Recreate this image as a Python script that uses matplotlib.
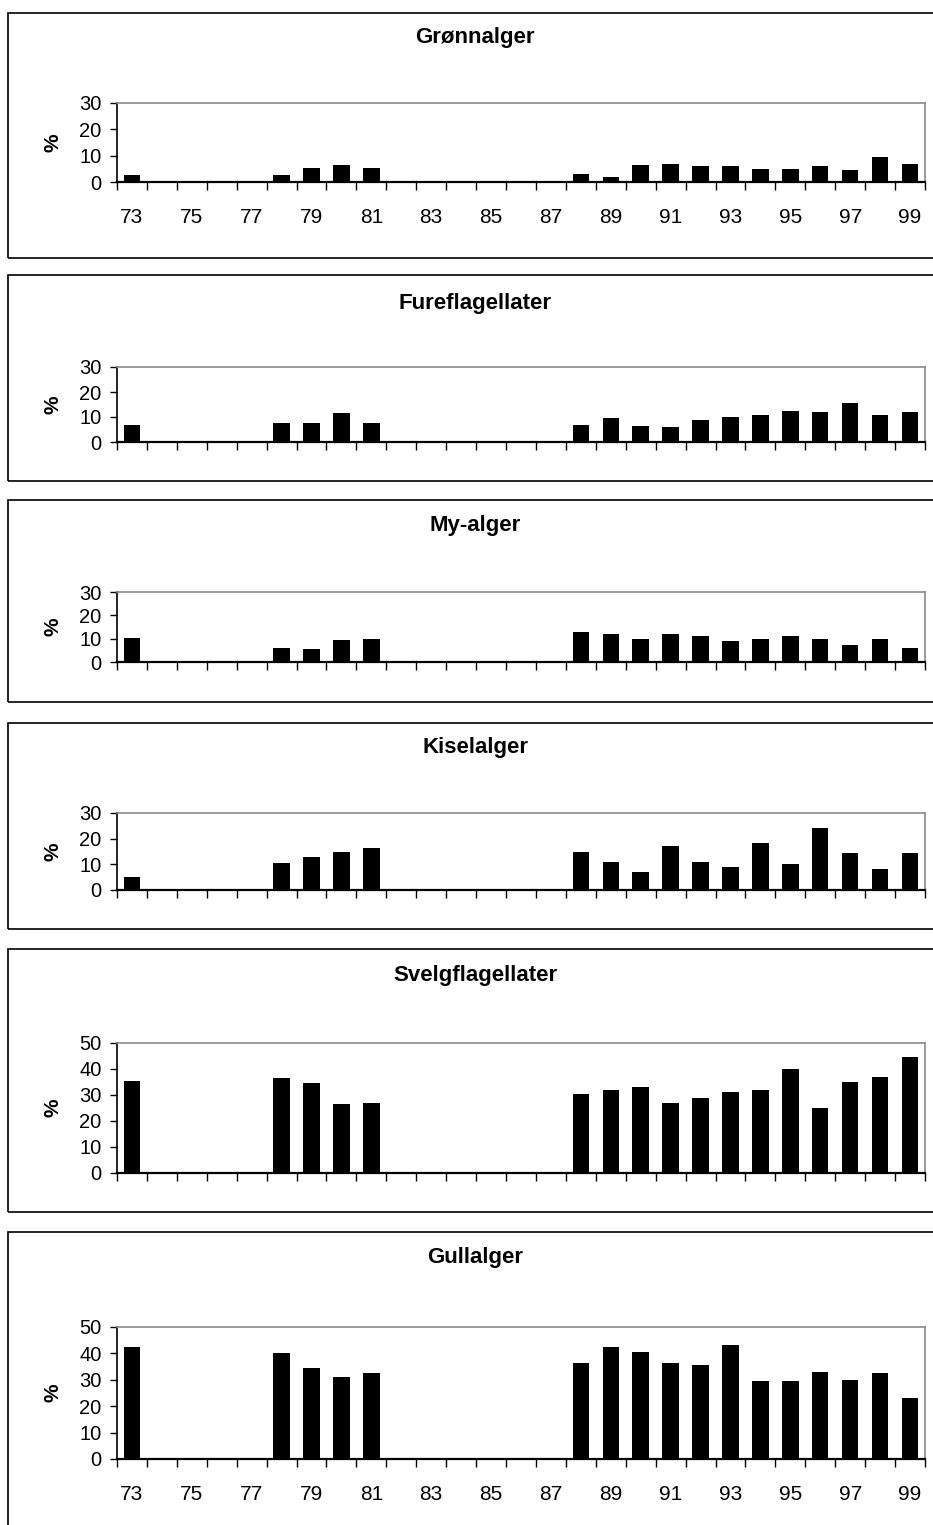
import numpy as np
import matplotlib
matplotlib.use("Agg")
import matplotlib.pyplot as plt
from matplotlib.patches import Rectangle

plt.rcParams["font.family"] = ["Liberation Sans", "DejaVu Sans"]

years = list(range(73, 100))
yearLabels = [str(y) if (y - 73) % 2 == 0 else "" for y in years]

# percent share per year, only the years that were sampled
dataYears = [73, 78, 79, 80, 81, 88, 89, 90, 91, 92, 93, 94, 95, 96, 97, 98, 99]
gronnalger = [2.5, 2.5, 5.5, 6.5, 5.5, 3, 2, 6.5, 7, 6, 6, 5, 5, 6, 4.5, 9.5, 7]
fureflagellater = [7, 7.5, 7.5, 11.5, 7.5, 7, 9.5, 6.5, 6, 9, 10, 11, 12.5, 12, 15.5, 11, 12]
myalger = [10.5, 6, 5.5, 9.5, 10, 13, 12, 10, 12, 11, 9, 10, 11, 10, 7.5, 10, 6]
kiselalger = [5, 10.5, 13, 15, 16.5, 15, 11, 7, 17, 11, 9, 18.5, 10, 24, 14.5, 8, 14.5]
svelgflagellater = [35.5, 36.5, 34.5, 26.5, 27, 30.5, 32, 33, 27, 29, 31, 32, 40, 25, 35, 37, 44.5]
gullalger = [42.5, 40, 34.5, 31, 32.5, 36.5, 42.5, 40.5, 36.5, 35.5, 43, 29.5, 29.5, 33, 30, 32.5, 23]

panels = [
    ("Grønnalger", gronnalger, 30, [0, 10, 20, 30]),
    ("Fureflagellater", fureflagellater, 30, [0, 10, 20, 30]),
    ("My-alger", myalger, 30, [0, 10, 20, 30]),
    ("Kiselalger", kiselalger, 30, [0, 10, 20, 30]),
    ("Svelgflagellater", svelgflagellater, 50, [0, 10, 20, 30, 40, 50]),
    ("Gullalger", gullalger, 50, [0, 10, 20, 30, 40, 50]),
]

# pixel layout: box top, box bottom, plot top, plot bottom, title y
layout = [
    (13, 258, 103, 182, 38),
    (275, 481, 367, 442, 303),
    (500, 702, 592, 662, 526),
    (723, 929, 813, 890, 748),
    (949, 1212, 1043, 1173, 975),
    (1232, 1540, 1327, 1459, 1258),
]

W, H = 933, 1525
fig = plt.figure(figsize=(W / 100, H / 100), dpi=100)
fig.patch.set_facecolor("white")

plotLeft, plotRight = 117, 925
boxLeft, boxRight = 8, 945

for i, (name, values, ymax, yticks) in enumerate(panels):
    boxTop, boxBottom, pTop, pBottom, titleY = layout[i]

    box = Rectangle((boxLeft / W, 1 - boxBottom / H), (boxRight - boxLeft) / W,
                    (boxBottom - boxTop) / H, transform=fig.transFigure,
                    fill=False, edgecolor="black", linewidth=1.2, clip_on=False)
    fig.patches.append(box)

    fig.text(475 / W, 1 - titleY / H, name, ha="center", va="center",
             fontsize=16, fontweight="bold")

    ax = fig.add_axes([plotLeft / W, 1 - pBottom / H, (plotRight - plotLeft) / W,
                       (pBottom - pTop) / H])
    xs = [years.index(y) for y in dataYears]
    ax.bar(xs, values, width=0.55, color="black")

    ax.set_xlim(-0.5, len(years) - 0.5)
    ax.set_ylim(0, ymax)
    ax.set_yticks(yticks)
    ax.tick_params(axis="y", labelsize=14.5, length=5, width=1, direction="out", pad=6)

    ax.set_xticks(np.arange(len(years)))
    ax.set_xticks(np.arange(len(years) + 1) - 0.5, minor=True)
    ax.tick_params(axis="x", which="major", length=0, pad=19)
    ax.tick_params(axis="x", which="minor", length=6, width=1, direction="out")
    if i == 0 or i == len(panels) - 1:
        ax.set_xticklabels(yearLabels, fontsize=15)
    else:
        ax.set_xticklabels([])

    for side in ["top", "right"]:
        ax.spines[side].set_color("#8a8a8a")
        ax.spines[side].set_linewidth(1.2)
    ax.spines["left"].set_linewidth(1.2)
    ax.spines["bottom"].set_linewidth(1.6)

    ax.set_ylabel("%", fontsize=15, fontweight="bold", labelpad=12)

fig.savefig("out.png", dpi=100, facecolor="white")
